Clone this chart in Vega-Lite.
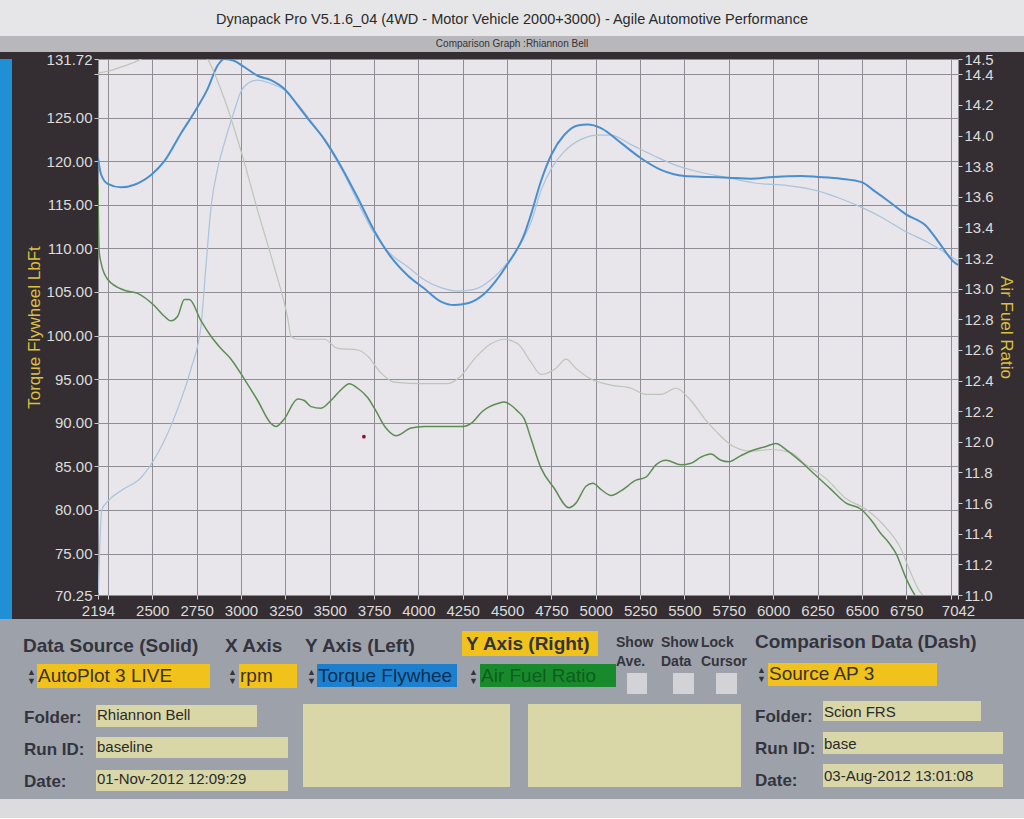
{
"$schema": "https://vega.github.io/schema/vega-lite/v6.json",
"padding": 0,
"background": "#342e32",
"spacing": 0,
"config": {"view": {"stroke": null}, "font": "Liberation Sans"},
"datasets": {
"torque": [
{"rpm":2194,"value":120.4,"run":"AutoPlot 3 LIVE"},{"rpm":2211,"value":118.5,"run":"AutoPlot 3 LIVE"},{"rpm":2249,"value":117.4,"run":"AutoPlot 3 LIVE"},{"rpm":2324,"value":117.0,"run":"AutoPlot 3 LIVE"},{"rpm":2399,"value":117.3,"run":"AutoPlot 3 LIVE"},{"rpm":2498,"value":118.5,"run":"AutoPlot 3 LIVE"},{"rpm":2568,"value":120.0,"run":"AutoPlot 3 LIVE"},{"rpm":2662,"value":123.2,"run":"AutoPlot 3 LIVE"},{"rpm":2752,"value":126.1,"run":"AutoPlot 3 LIVE"},{"rpm":2812,"value":128.3,"run":"AutoPlot 3 LIVE"},{"rpm":2869,"value":131.0,"run":"AutoPlot 3 LIVE"},{"rpm":2906,"value":131.72,"run":"AutoPlot 3 LIVE"},{"rpm":2962,"value":131.5,"run":"AutoPlot 3 LIVE"},{"rpm":3019,"value":130.8,"run":"AutoPlot 3 LIVE"},{"rpm":3094,"value":129.8,"run":"AutoPlot 3 LIVE"},{"rpm":3169,"value":129.3,"run":"AutoPlot 3 LIVE"},{"rpm":3244,"value":128.3,"run":"AutoPlot 3 LIVE"},{"rpm":3320,"value":126.4,"run":"AutoPlot 3 LIVE"},{"rpm":3376,"value":124.9,"run":"AutoPlot 3 LIVE"},{"rpm":3470,"value":122.5,"run":"AutoPlot 3 LIVE"},{"rpm":3564,"value":119.4,"run":"AutoPlot 3 LIVE"},{"rpm":3658,"value":115.8,"run":"AutoPlot 3 LIVE"},{"rpm":3752,"value":112.0,"run":"AutoPlot 3 LIVE"},{"rpm":3846,"value":109.0,"run":"AutoPlot 3 LIVE"},{"rpm":3940,"value":106.9,"run":"AutoPlot 3 LIVE"},{"rpm":4033,"value":105.4,"run":"AutoPlot 3 LIVE"},{"rpm":4127,"value":103.9,"run":"AutoPlot 3 LIVE"},{"rpm":4202,"value":103.5,"run":"AutoPlot 3 LIVE"},{"rpm":4278,"value":103.7,"run":"AutoPlot 3 LIVE"},{"rpm":4372,"value":104.8,"run":"AutoPlot 3 LIVE"},{"rpm":4503,"value":108.2,"run":"AutoPlot 3 LIVE"},{"rpm":4597,"value":111.6,"run":"AutoPlot 3 LIVE"},{"rpm":4635,"value":113.9,"run":"AutoPlot 3 LIVE"},{"rpm":4691,"value":117.7,"run":"AutoPlot 3 LIVE"},{"rpm":4751,"value":120.8,"run":"AutoPlot 3 LIVE"},{"rpm":4822,"value":123.0,"run":"AutoPlot 3 LIVE"},{"rpm":4898,"value":124.1,"run":"AutoPlot 3 LIVE"},{"rpm":4954,"value":124.2,"run":"AutoPlot 3 LIVE"},{"rpm":5029,"value":123.8,"run":"AutoPlot 3 LIVE"},{"rpm":5142,"value":122.1,"run":"AutoPlot 3 LIVE"},{"rpm":5251,"value":120.4,"run":"AutoPlot 3 LIVE"},{"rpm":5368,"value":119.0,"run":"AutoPlot 3 LIVE"},{"rpm":5499,"value":118.3,"run":"AutoPlot 3 LIVE"},{"rpm":5631,"value":118.2,"run":"AutoPlot 3 LIVE"},{"rpm":5749,"value":118.1,"run":"AutoPlot 3 LIVE"},{"rpm":5875,"value":118.0,"run":"AutoPlot 3 LIVE"},{"rpm":6000,"value":118.2,"run":"AutoPlot 3 LIVE"},{"rpm":6157,"value":118.3,"run":"AutoPlot 3 LIVE"},{"rpm":6251,"value":118.2,"run":"AutoPlot 3 LIVE"},{"rpm":6382,"value":118.0,"run":"AutoPlot 3 LIVE"},{"rpm":6499,"value":117.6,"run":"AutoPlot 3 LIVE"},{"rpm":6570,"value":116.6,"run":"AutoPlot 3 LIVE"},{"rpm":6645,"value":115.5,"run":"AutoPlot 3 LIVE"},{"rpm":6749,"value":113.9,"run":"AutoPlot 3 LIVE"},{"rpm":6861,"value":112.6,"run":"AutoPlot 3 LIVE"},{"rpm":6927,"value":110.9,"run":"AutoPlot 3 LIVE"},{"rpm":7021,"value":108.4,"run":"AutoPlot 3 LIVE"},{"rpm":7042,"value":108.1,"run":"AutoPlot 3 LIVE"},
{"rpm":2196,"value":70.5,"run":"Source AP 3"},{"rpm":2215,"value":80.0,"run":"Source AP 3"},{"rpm":2249,"value":81.0,"run":"Source AP 3"},{"rpm":2330,"value":82.3,"run":"Source AP 3"},{"rpm":2436,"value":83.7,"run":"Source AP 3"},{"rpm":2531,"value":86.5,"run":"Source AP 3"},{"rpm":2643,"value":91.6,"run":"Source AP 3"},{"rpm":2718,"value":96.2,"run":"Source AP 3"},{"rpm":2775,"value":101.2,"run":"Source AP 3"},{"rpm":2803,"value":108.1,"run":"Source AP 3"},{"rpm":2831,"value":114.7,"run":"Source AP 3"},{"rpm":2869,"value":119.2,"run":"Source AP 3"},{"rpm":2904,"value":121.9,"run":"Source AP 3"},{"rpm":2961,"value":125.7,"run":"Source AP 3"},{"rpm":3000,"value":128.0,"run":"Source AP 3"},{"rpm":3038,"value":128.9,"run":"Source AP 3"},{"rpm":3094,"value":129.3,"run":"Source AP 3"},{"rpm":3169,"value":128.9,"run":"Source AP 3"},{"rpm":3242,"value":128.2,"run":"Source AP 3"},{"rpm":3376,"value":125.1,"run":"Source AP 3"},{"rpm":3470,"value":122.4,"run":"Source AP 3"},{"rpm":3564,"value":119.2,"run":"Source AP 3"},{"rpm":3752,"value":111.7,"run":"Source AP 3"},{"rpm":3846,"value":109.3,"run":"Source AP 3"},{"rpm":3940,"value":107.9,"run":"Source AP 3"},{"rpm":4033,"value":106.4,"run":"Source AP 3"},{"rpm":4127,"value":105.5,"run":"Source AP 3"},{"rpm":4222,"value":105.1,"run":"Source AP 3"},{"rpm":4315,"value":105.3,"run":"Source AP 3"},{"rpm":4409,"value":106.4,"run":"Source AP 3"},{"rpm":4503,"value":108.4,"run":"Source AP 3"},{"rpm":4597,"value":111.3,"run":"Source AP 3"},{"rpm":4635,"value":113.0,"run":"Source AP 3"},{"rpm":4691,"value":116.6,"run":"Source AP 3"},{"rpm":4751,"value":119.2,"run":"Source AP 3"},{"rpm":4822,"value":121.1,"run":"Source AP 3"},{"rpm":4917,"value":122.5,"run":"Source AP 3"},{"rpm":5011,"value":123.0,"run":"Source AP 3"},{"rpm":5086,"value":123.0,"run":"Source AP 3"},{"rpm":5199,"value":121.9,"run":"Source AP 3"},{"rpm":5330,"value":120.6,"run":"Source AP 3"},{"rpm":5443,"value":119.6,"run":"Source AP 3"},{"rpm":5555,"value":118.9,"run":"Source AP 3"},{"rpm":5749,"value":118.1,"run":"Source AP 3"},{"rpm":5894,"value":117.5,"run":"Source AP 3"},{"rpm":6082,"value":117.2,"run":"Source AP 3"},{"rpm":6251,"value":116.6,"run":"Source AP 3"},{"rpm":6382,"value":115.7,"run":"Source AP 3"},{"rpm":6499,"value":114.7,"run":"Source AP 3"},{"rpm":6608,"value":113.6,"run":"Source AP 3"},{"rpm":6749,"value":111.9,"run":"Source AP 3"},{"rpm":6871,"value":110.7,"run":"Source AP 3"},{"rpm":7021,"value":108.8,"run":"Source AP 3"},{"rpm":7042,"value":108.5,"run":"Source AP 3"}
],
"afr": [
{"rpm":2194,"value":13.68,"run":"AutoPlot 3 LIVE"},{"rpm":2200,"value":13.25,"run":"AutoPlot 3 LIVE"},{"rpm":2211,"value":13.17,"run":"AutoPlot 3 LIVE"},{"rpm":2249,"value":13.06,"run":"AutoPlot 3 LIVE"},{"rpm":2342,"value":12.99,"run":"AutoPlot 3 LIVE"},{"rpm":2418,"value":12.97,"run":"AutoPlot 3 LIVE"},{"rpm":2511,"value":12.89,"run":"AutoPlot 3 LIVE"},{"rpm":2568,"value":12.82,"run":"AutoPlot 3 LIVE"},{"rpm":2605,"value":12.79,"run":"AutoPlot 3 LIVE"},{"rpm":2643,"value":12.82,"run":"AutoPlot 3 LIVE"},{"rpm":2681,"value":12.93,"run":"AutoPlot 3 LIVE"},{"rpm":2709,"value":12.93,"run":"AutoPlot 3 LIVE"},{"rpm":2775,"value":12.79,"run":"AutoPlot 3 LIVE"},{"rpm":2831,"value":12.69,"run":"AutoPlot 3 LIVE"},{"rpm":2887,"value":12.61,"run":"AutoPlot 3 LIVE"},{"rpm":2944,"value":12.54,"run":"AutoPlot 3 LIVE"},{"rpm":3019,"value":12.41,"run":"AutoPlot 3 LIVE"},{"rpm":3094,"value":12.27,"run":"AutoPlot 3 LIVE"},{"rpm":3169,"value":12.12,"run":"AutoPlot 3 LIVE"},{"rpm":3197,"value":12.10,"run":"AutoPlot 3 LIVE"},{"rpm":3244,"value":12.15,"run":"AutoPlot 3 LIVE"},{"rpm":3320,"value":12.28,"run":"AutoPlot 3 LIVE"},{"rpm":3357,"value":12.27,"run":"AutoPlot 3 LIVE"},{"rpm":3395,"value":12.23,"run":"AutoPlot 3 LIVE"},{"rpm":3451,"value":12.22,"run":"AutoPlot 3 LIVE"},{"rpm":3507,"value":12.27,"run":"AutoPlot 3 LIVE"},{"rpm":3564,"value":12.34,"run":"AutoPlot 3 LIVE"},{"rpm":3611,"value":12.38,"run":"AutoPlot 3 LIVE"},{"rpm":3658,"value":12.35,"run":"AutoPlot 3 LIVE"},{"rpm":3714,"value":12.29,"run":"AutoPlot 3 LIVE"},{"rpm":3752,"value":12.22,"run":"AutoPlot 3 LIVE"},{"rpm":3817,"value":12.09,"run":"AutoPlot 3 LIVE"},{"rpm":3874,"value":12.04,"run":"AutoPlot 3 LIVE"},{"rpm":3958,"value":12.09,"run":"AutoPlot 3 LIVE"},{"rpm":4033,"value":12.10,"run":"AutoPlot 3 LIVE"},{"rpm":4253,"value":12.10,"run":"AutoPlot 3 LIVE"},{"rpm":4297,"value":12.12,"run":"AutoPlot 3 LIVE"},{"rpm":4362,"value":12.20,"run":"AutoPlot 3 LIVE"},{"rpm":4447,"value":12.25,"run":"AutoPlot 3 LIVE"},{"rpm":4484,"value":12.26,"run":"AutoPlot 3 LIVE"},{"rpm":4560,"value":12.20,"run":"AutoPlot 3 LIVE"},{"rpm":4597,"value":12.15,"run":"AutoPlot 3 LIVE"},{"rpm":4635,"value":12.02,"run":"AutoPlot 3 LIVE"},{"rpm":4691,"value":11.83,"run":"AutoPlot 3 LIVE"},{"rpm":4764,"value":11.70,"run":"AutoPlot 3 LIVE"},{"rpm":4849,"value":11.57,"run":"AutoPlot 3 LIVE"},{"rpm":4888,"value":11.60,"run":"AutoPlot 3 LIVE"},{"rpm":4945,"value":11.71,"run":"AutoPlot 3 LIVE"},{"rpm":4984,"value":11.73,"run":"AutoPlot 3 LIVE"},{"rpm":5029,"value":11.69,"run":"AutoPlot 3 LIVE"},{"rpm":5086,"value":11.65,"run":"AutoPlot 3 LIVE"},{"rpm":5142,"value":11.68,"run":"AutoPlot 3 LIVE"},{"rpm":5227,"value":11.75,"run":"AutoPlot 3 LIVE"},{"rpm":5283,"value":11.77,"run":"AutoPlot 3 LIVE"},{"rpm":5339,"value":11.85,"run":"AutoPlot 3 LIVE"},{"rpm":5396,"value":11.88,"run":"AutoPlot 3 LIVE"},{"rpm":5480,"value":11.85,"run":"AutoPlot 3 LIVE"},{"rpm":5536,"value":11.86,"run":"AutoPlot 3 LIVE"},{"rpm":5593,"value":11.90,"run":"AutoPlot 3 LIVE"},{"rpm":5649,"value":11.92,"run":"AutoPlot 3 LIVE"},{"rpm":5705,"value":11.88,"run":"AutoPlot 3 LIVE"},{"rpm":5751,"value":11.87,"run":"AutoPlot 3 LIVE"},{"rpm":5818,"value":11.91,"run":"AutoPlot 3 LIVE"},{"rpm":5875,"value":11.94,"run":"AutoPlot 3 LIVE"},{"rpm":5959,"value":11.97,"run":"AutoPlot 3 LIVE"},{"rpm":6016,"value":11.99,"run":"AutoPlot 3 LIVE"},{"rpm":6072,"value":11.95,"run":"AutoPlot 3 LIVE"},{"rpm":6157,"value":11.87,"run":"AutoPlot 3 LIVE"},{"rpm":6241,"value":11.78,"run":"AutoPlot 3 LIVE"},{"rpm":6326,"value":11.69,"run":"AutoPlot 3 LIVE"},{"rpm":6411,"value":11.60,"run":"AutoPlot 3 LIVE"},{"rpm":6495,"value":11.56,"run":"AutoPlot 3 LIVE"},{"rpm":6552,"value":11.49,"run":"AutoPlot 3 LIVE"},{"rpm":6608,"value":11.40,"run":"AutoPlot 3 LIVE"},{"rpm":6653,"value":11.34,"run":"AutoPlot 3 LIVE"},{"rpm":6693,"value":11.27,"run":"AutoPlot 3 LIVE"},{"rpm":6749,"value":11.11,"run":"AutoPlot 3 LIVE"},{"rpm":6788,"value":11.02,"run":"AutoPlot 3 LIVE"},{"rpm":6810,"value":10.98,"run":"AutoPlot 3 LIVE"},
{"rpm":2194,"value":14.41,"run":"Source AP 3"},{"rpm":2250,"value":14.42,"run":"Source AP 3"},{"rpm":2330,"value":14.45,"run":"Source AP 3"},{"rpm":2436,"value":14.5,"run":"Source AP 3"},{"rpm":2550,"value":14.62,"run":"Source AP 3"},{"rpm":2650,"value":14.66,"run":"Source AP 3"},{"rpm":2750,"value":14.6,"run":"Source AP 3"},{"rpm":2812,"value":14.5,"run":"Source AP 3"},{"rpm":2906,"value":14.24,"run":"Source AP 3"},{"rpm":3000,"value":13.90,"run":"Source AP 3"},{"rpm":3094,"value":13.51,"run":"Source AP 3"},{"rpm":3188,"value":13.14,"run":"Source AP 3"},{"rpm":3263,"value":12.81,"run":"Source AP 3"},{"rpm":3282,"value":12.69,"run":"Source AP 3"},{"rpm":3320,"value":12.67,"run":"Source AP 3"},{"rpm":3470,"value":12.67,"run":"Source AP 3"},{"rpm":3545,"value":12.61,"run":"Source AP 3"},{"rpm":3658,"value":12.60,"run":"Source AP 3"},{"rpm":3714,"value":12.56,"run":"Source AP 3"},{"rpm":3789,"value":12.45,"run":"Source AP 3"},{"rpm":3864,"value":12.39,"run":"Source AP 3"},{"rpm":4033,"value":12.38,"run":"Source AP 3"},{"rpm":4165,"value":12.38,"run":"Source AP 3"},{"rpm":4240,"value":12.43,"run":"Source AP 3"},{"rpm":4315,"value":12.54,"run":"Source AP 3"},{"rpm":4409,"value":12.64,"run":"Source AP 3"},{"rpm":4484,"value":12.67,"run":"Source AP 3"},{"rpm":4560,"value":12.64,"run":"Source AP 3"},{"rpm":4635,"value":12.52,"run":"Source AP 3"},{"rpm":4691,"value":12.44,"run":"Source AP 3"},{"rpm":4776,"value":12.48,"run":"Source AP 3"},{"rpm":4832,"value":12.54,"run":"Source AP 3"},{"rpm":4888,"value":12.48,"run":"Source AP 3"},{"rpm":4973,"value":12.41,"run":"Source AP 3"},{"rpm":5086,"value":12.37,"run":"Source AP 3"},{"rpm":5199,"value":12.35,"run":"Source AP 3"},{"rpm":5283,"value":12.31,"run":"Source AP 3"},{"rpm":5368,"value":12.31,"run":"Source AP 3"},{"rpm":5452,"value":12.35,"run":"Source AP 3"},{"rpm":5536,"value":12.27,"run":"Source AP 3"},{"rpm":5621,"value":12.14,"run":"Source AP 3"},{"rpm":5677,"value":12.07,"run":"Source AP 3"},{"rpm":5762,"value":11.98,"run":"Source AP 3"},{"rpm":5875,"value":11.94,"run":"Source AP 3"},{"rpm":5988,"value":11.95,"run":"Source AP 3"},{"rpm":6100,"value":11.93,"run":"Source AP 3"},{"rpm":6185,"value":11.85,"run":"Source AP 3"},{"rpm":6298,"value":11.76,"run":"Source AP 3"},{"rpm":6411,"value":11.63,"run":"Source AP 3"},{"rpm":6523,"value":11.56,"run":"Source AP 3"},{"rpm":6636,"value":11.44,"run":"Source AP 3"},{"rpm":6721,"value":11.30,"run":"Source AP 3"},{"rpm":6777,"value":11.14,"run":"Source AP 3"},{"rpm":6822,"value":11.03,"run":"Source AP 3"},{"rpm":6861,"value":10.98,"run":"Source AP 3"}
],
"cursor": [{"rpm":3693,"value":88.4}]
},
"vconcat": [
{"width":1024,"height":36,"view":{"fill":"#e6e6e8","stroke":null},"data":{"values":[{}]},
 "mark":{"type":"text","font":"Liberation Sans","fontSize":14.5,"color":"#2b2b2b","baseline":"middle","dy":2},
 "encoding":{"text":{"value":"Dynapack Pro V5.1.6_04 (4WD - Motor Vehicle 2000+3000) - Agile Automotive Performance"}}},
{"width":1024,"height":16,"view":{"fill":"#b8b8bc","stroke":null},"data":{"values":[{}]},
 "mark":{"type":"text","font":"Liberation Sans","fontSize":10,"color":"#333333","baseline":"middle"},
 "encoding":{"text":{"value":"Comparison Graph :Rhiannon Bell"}}},
{"hconcat":[
 {"width":12,"height":560,"view":{"fill":"#1f8fd6","stroke":null},"data":{"values":[{}]},"mark":{"type":"text"},"encoding":{"text":{"value":""}}},
 {"width":860,"height":536,"view":{"fill":"#e8e5eb","stroke":null},
  "encoding":{"x":{"field":"rpm","type":"quantitative","scale":{"domain":[2194,7042],"nice":false,"zero":false},
   "axis":{"title":null,"values":[2194,2250,2500,2750,3000,3250,3500,3750,4000,4250,4500,4750,5000,5250,5500,5750,6000,6250,6500,6750,7000,7042],"format":"d","labelExpr":"datum.value == 2250 || datum.value == 7000 ? '' : datum.label","labelFlush":false,"labelOverlap":false,"grid":true,"gridColor":"#8f8e95","tickColor":"#cfcfcf","tickSize":4,"domain":false,"labelColor":"#dcdcdc","labelFont":"Liberation Sans","labelFontSize":15,"labelPadding":4}}},
  "layer":[
   {"data":{"name":"torque"},
    "encoding":{"y":{"field":"value","type":"quantitative","scale":{"domain":[70.25,131.72],"nice":false,"zero":false},
     "axis":{"orient":"left","title":"Torque Flywheel LbFt","values":[70.25,75,80,85,90,95,100,105,110,115,120,125,130,131.72],"format":".2f","labelExpr":"datum.value == 130 ? '' : datum.label","grid":true,"gridColor":"#8f8e95","tickColor":"#cfcfcf","tickSize":4,"domain":false,"labelColor":"#dcdcdc","labelFont":"Liberation Sans","labelFontSize":15,"labelPadding":2,"labelOverlap":false,"labelFlush":false,"titleColor":"#dcc040","titleFont":"Liberation Sans","titleFontSize":17,"titleFontWeight":"normal","titlePadding":3}}},
    "layer":[
     {"transform":[{"filter":"datum.run == 'Source AP 3'"}],"mark":{"type":"line","color":"#a9c4dc","strokeWidth":1.2,"interpolate":"monotone","clip":true},"encoding":{}},
     {"transform":[{"filter":"datum.run == 'AutoPlot 3 LIVE'"}],"mark":{"type":"line","color":"#4a8fcd","strokeWidth":2,"interpolate":"monotone","clip":true},"encoding":{}}
    ]},
   {"data":{"name":"afr"},
    "encoding":{"y":{"field":"value","type":"quantitative","scale":{"domain":[11,14.5],"nice":false,"zero":false},
     "axis":{"orient":"right","title":"Air Fuel Ratio","values":[11,11.2,11.4,11.6,11.8,12,12.2,12.4,12.6,12.8,13,13.2,13.4,13.6,13.8,14,14.2,14.4,14.5],"format":".1f","grid":false,"tickColor":"#cfcfcf","tickSize":4,"domain":false,"labelColor":"#dcdcdc","labelFont":"Liberation Sans","labelFontSize":15,"labelPadding":2,"labelOverlap":false,"labelFlush":false,"titleColor":"#dcc040","titleFont":"Liberation Sans","titleFontSize":17,"titleFontWeight":"normal","titlePadding":3}}},
    "layer":[
     {"transform":[{"filter":"datum.run == 'Source AP 3'"}],"mark":{"type":"line","color":"#bcc6b8","strokeWidth":1.2,"interpolate":"monotone","clip":true},"encoding":{}},
     {"transform":[{"filter":"datum.run == 'AutoPlot 3 LIVE'"}],"mark":{"type":"line","color":"#5c8e53","strokeWidth":1.5,"interpolate":"monotone","clip":true},"encoding":{}}
    ]},
   {"data":{"name":"cursor"},"mark":{"type":"point","filled":true,"color":"#8a1528","size":14,"opacity":1},
    "encoding":{"y":{"field":"value","type":"quantitative","scale":{"domain":[70.25,131.72],"nice":false,"zero":false},"axis":null}}}
  ],
  "resolve":{"scale":{"y":"independent"}}}
 ],
 "spacing":13},
{"width":1024,"height":180,"view":{"fill":"#9da1aa","stroke":null},"data":{"values":[{}]},
 "layer":[
  {"mark":{"type":"rect","color":"#f2c21c"},"encoding":{"x":{"datum":462,"scale":{"domain":[0,1024],"nice":false,"zero":false},"axis":null},"x2":{"datum":598},"y":{"datum":12,"scale":{"domain":[0,180],"nice":false,"zero":false,"reverse":true},"axis":null},"y2":{"datum":37}}},
  {"mark":{"type":"rect","color":"#f2c21c"},"encoding":{"x":{"datum":37,"scale":{"domain":[0,1024],"nice":false,"zero":false},"axis":null},"x2":{"datum":210},"y":{"datum":45,"scale":{"domain":[0,180],"nice":false,"zero":false,"reverse":true},"axis":null},"y2":{"datum":69}}},
  {"mark":{"type":"rect","color":"#f2c21c"},"encoding":{"x":{"datum":239,"scale":{"domain":[0,1024],"nice":false,"zero":false},"axis":null},"x2":{"datum":297},"y":{"datum":45,"scale":{"domain":[0,180],"nice":false,"zero":false,"reverse":true},"axis":null},"y2":{"datum":69}}},
  {"mark":{"type":"rect","color":"#1e80cc"},"encoding":{"x":{"datum":317,"scale":{"domain":[0,1024],"nice":false,"zero":false},"axis":null},"x2":{"datum":457},"y":{"datum":45,"scale":{"domain":[0,180],"nice":false,"zero":false,"reverse":true},"axis":null},"y2":{"datum":68}}},
  {"mark":{"type":"rect","color":"#188a2c"},"encoding":{"x":{"datum":480,"scale":{"domain":[0,1024],"nice":false,"zero":false},"axis":null},"x2":{"datum":616},"y":{"datum":45,"scale":{"domain":[0,180],"nice":false,"zero":false,"reverse":true},"axis":null},"y2":{"datum":68}}},
  {"mark":{"type":"rect","color":"#d3d3d7"},"encoding":{"x":{"datum":627,"scale":{"domain":[0,1024],"nice":false,"zero":false},"axis":null},"x2":{"datum":647},"y":{"datum":54,"scale":{"domain":[0,180],"nice":false,"zero":false,"reverse":true},"axis":null},"y2":{"datum":75}}},
  {"mark":{"type":"rect","color":"#d3d3d7"},"encoding":{"x":{"datum":673,"scale":{"domain":[0,1024],"nice":false,"zero":false},"axis":null},"x2":{"datum":694},"y":{"datum":54,"scale":{"domain":[0,180],"nice":false,"zero":false,"reverse":true},"axis":null},"y2":{"datum":75}}},
  {"mark":{"type":"rect","color":"#d3d3d7"},"encoding":{"x":{"datum":716,"scale":{"domain":[0,1024],"nice":false,"zero":false},"axis":null},"x2":{"datum":737},"y":{"datum":54,"scale":{"domain":[0,180],"nice":false,"zero":false,"reverse":true},"axis":null},"y2":{"datum":75}}},
  {"mark":{"type":"rect","color":"#f2c21c"},"encoding":{"x":{"datum":768,"scale":{"domain":[0,1024],"nice":false,"zero":false},"axis":null},"x2":{"datum":937},"y":{"datum":44,"scale":{"domain":[0,180],"nice":false,"zero":false,"reverse":true},"axis":null},"y2":{"datum":67}}},
  {"mark":{"type":"rect","color":"#d9d7a8"},"encoding":{"x":{"datum":96,"scale":{"domain":[0,1024],"nice":false,"zero":false},"axis":null},"x2":{"datum":257},"y":{"datum":86,"scale":{"domain":[0,180],"nice":false,"zero":false,"reverse":true},"axis":null},"y2":{"datum":108}}},
  {"mark":{"type":"rect","color":"#d9d7a8"},"encoding":{"x":{"datum":96,"scale":{"domain":[0,1024],"nice":false,"zero":false},"axis":null},"x2":{"datum":288},"y":{"datum":118,"scale":{"domain":[0,180],"nice":false,"zero":false,"reverse":true},"axis":null},"y2":{"datum":139}}},
  {"mark":{"type":"rect","color":"#d9d7a8"},"encoding":{"x":{"datum":96,"scale":{"domain":[0,1024],"nice":false,"zero":false},"axis":null},"x2":{"datum":288},"y":{"datum":151,"scale":{"domain":[0,180],"nice":false,"zero":false,"reverse":true},"axis":null},"y2":{"datum":172}}},
  {"mark":{"type":"rect","color":"#d9d7a8"},"encoding":{"x":{"datum":303,"scale":{"domain":[0,1024],"nice":false,"zero":false},"axis":null},"x2":{"datum":510},"y":{"datum":85,"scale":{"domain":[0,180],"nice":false,"zero":false,"reverse":true},"axis":null},"y2":{"datum":168}}},
  {"mark":{"type":"rect","color":"#d9d7a8"},"encoding":{"x":{"datum":528,"scale":{"domain":[0,1024],"nice":false,"zero":false},"axis":null},"x2":{"datum":741},"y":{"datum":85,"scale":{"domain":[0,180],"nice":false,"zero":false,"reverse":true},"axis":null},"y2":{"datum":168}}},
  {"mark":{"type":"rect","color":"#d9d7a8"},"encoding":{"x":{"datum":823,"scale":{"domain":[0,1024],"nice":false,"zero":false},"axis":null},"x2":{"datum":981},"y":{"datum":82,"scale":{"domain":[0,180],"nice":false,"zero":false,"reverse":true},"axis":null},"y2":{"datum":102}}},
  {"mark":{"type":"rect","color":"#d9d7a8"},"encoding":{"x":{"datum":823,"scale":{"domain":[0,1024],"nice":false,"zero":false},"axis":null},"x2":{"datum":1003},"y":{"datum":113,"scale":{"domain":[0,180],"nice":false,"zero":false,"reverse":true},"axis":null},"y2":{"datum":135}}},
  {"mark":{"type":"rect","color":"#d9d7a8"},"encoding":{"x":{"datum":823,"scale":{"domain":[0,1024],"nice":false,"zero":false},"axis":null},"x2":{"datum":1003},"y":{"datum":145,"scale":{"domain":[0,180],"nice":false,"zero":false,"reverse":true},"axis":null},"y2":{"datum":168}}},
  {"mark":{"type":"text","align":"left","baseline":"middle","fontSize":19,"fontWeight":"bold","color":"#34343c"},"encoding":{"text":{"value":"Data Source (Solid)"},"x":{"datum":23,"scale":{"domain":[0,1024],"nice":false,"zero":false},"axis":null},"y":{"datum":27,"scale":{"domain":[0,180],"nice":false,"zero":false,"reverse":true},"axis":null}}},
  {"mark":{"type":"text","align":"left","baseline":"middle","fontSize":19,"fontWeight":"bold","color":"#34343c"},"encoding":{"text":{"value":"X Axis"},"x":{"datum":225,"scale":{"domain":[0,1024],"nice":false,"zero":false},"axis":null},"y":{"datum":27,"scale":{"domain":[0,180],"nice":false,"zero":false,"reverse":true},"axis":null}}},
  {"mark":{"type":"text","align":"left","baseline":"middle","fontSize":19,"fontWeight":"bold","color":"#34343c"},"encoding":{"text":{"value":"Y Axis (Left)"},"x":{"datum":305,"scale":{"domain":[0,1024],"nice":false,"zero":false},"axis":null},"y":{"datum":27,"scale":{"domain":[0,180],"nice":false,"zero":false,"reverse":true},"axis":null}}},
  {"mark":{"type":"text","align":"left","baseline":"middle","fontSize":19,"fontWeight":"bold","color":"#34343c"},"encoding":{"text":{"value":"Y Axis (Right)"},"x":{"datum":466,"scale":{"domain":[0,1024],"nice":false,"zero":false},"axis":null},"y":{"datum":25,"scale":{"domain":[0,180],"nice":false,"zero":false,"reverse":true},"axis":null}}},
  {"mark":{"type":"text","align":"left","baseline":"middle","fontSize":19,"fontWeight":"bold","color":"#34343c"},"encoding":{"text":{"value":"Comparison Data (Dash)"},"x":{"datum":755,"scale":{"domain":[0,1024],"nice":false,"zero":false},"axis":null},"y":{"datum":23,"scale":{"domain":[0,180],"nice":false,"zero":false,"reverse":true},"axis":null}}},
  {"mark":{"type":"text","align":"left","baseline":"middle","fontSize":14,"fontWeight":"bold","color":"#34343c","lineBreak":"\n","lineHeight":19},"encoding":{"text":{"value":"Show\nAve."},"x":{"datum":616,"scale":{"domain":[0,1024],"nice":false,"zero":false},"axis":null},"y":{"datum":23.5,"scale":{"domain":[0,180],"nice":false,"zero":false,"reverse":true},"axis":null}}},
  {"mark":{"type":"text","align":"left","baseline":"middle","fontSize":14,"fontWeight":"bold","color":"#34343c","lineBreak":"\n","lineHeight":19},"encoding":{"text":{"value":"Show\nData"},"x":{"datum":661,"scale":{"domain":[0,1024],"nice":false,"zero":false},"axis":null},"y":{"datum":23.5,"scale":{"domain":[0,180],"nice":false,"zero":false,"reverse":true},"axis":null}}},
  {"mark":{"type":"text","align":"left","baseline":"middle","fontSize":14,"fontWeight":"bold","color":"#34343c","lineBreak":"\n","lineHeight":19},"encoding":{"text":{"value":"Lock\nCursor"},"x":{"datum":701,"scale":{"domain":[0,1024],"nice":false,"zero":false},"axis":null},"y":{"datum":23.5,"scale":{"domain":[0,180],"nice":false,"zero":false,"reverse":true},"axis":null}}},
  {"mark":{"type":"text","align":"left","baseline":"middle","fontSize":19,"color":"#3b3220"},"encoding":{"text":{"value":"AutoPlot 3 LIVE"},"x":{"datum":38,"scale":{"domain":[0,1024],"nice":false,"zero":false},"axis":null},"y":{"datum":57,"scale":{"domain":[0,180],"nice":false,"zero":false,"reverse":true},"axis":null}}},
  {"mark":{"type":"text","align":"left","baseline":"middle","fontSize":19,"color":"#3b3220"},"encoding":{"text":{"value":"rpm"},"x":{"datum":240,"scale":{"domain":[0,1024],"nice":false,"zero":false},"axis":null},"y":{"datum":57,"scale":{"domain":[0,180],"nice":false,"zero":false,"reverse":true},"axis":null}}},
  {"mark":{"type":"text","align":"left","baseline":"middle","fontSize":19,"color":"#0c2f56"},"encoding":{"text":{"value":"Torque Flywhee"},"x":{"datum":318,"scale":{"domain":[0,1024],"nice":false,"zero":false},"axis":null},"y":{"datum":57,"scale":{"domain":[0,180],"nice":false,"zero":false,"reverse":true},"axis":null}}},
  {"mark":{"type":"text","align":"left","baseline":"middle","fontSize":19,"color":"#0f5c1f"},"encoding":{"text":{"value":"Air Fuel Ratio"},"x":{"datum":481,"scale":{"domain":[0,1024],"nice":false,"zero":false},"axis":null},"y":{"datum":57,"scale":{"domain":[0,180],"nice":false,"zero":false,"reverse":true},"axis":null}}},
  {"mark":{"type":"text","align":"left","baseline":"middle","fontSize":19,"color":"#3b3220"},"encoding":{"text":{"value":"Source AP 3"},"x":{"datum":769,"scale":{"domain":[0,1024],"nice":false,"zero":false},"axis":null},"y":{"datum":55,"scale":{"domain":[0,180],"nice":false,"zero":false,"reverse":true},"axis":null}}},
  {"mark":{"type":"text","align":"left","baseline":"middle","fontSize":9,"color":"#33333a","lineBreak":"\n","lineHeight":9},"encoding":{"text":{"value":"▲\n▼"},"x":{"datum":27,"scale":{"domain":[0,1024],"nice":false,"zero":false},"axis":null},"y":{"datum":53,"scale":{"domain":[0,180],"nice":false,"zero":false,"reverse":true},"axis":null}}},
  {"mark":{"type":"text","align":"left","baseline":"middle","fontSize":9,"color":"#33333a","lineBreak":"\n","lineHeight":9},"encoding":{"text":{"value":"▲\n▼"},"x":{"datum":228,"scale":{"domain":[0,1024],"nice":false,"zero":false},"axis":null},"y":{"datum":53,"scale":{"domain":[0,180],"nice":false,"zero":false,"reverse":true},"axis":null}}},
  {"mark":{"type":"text","align":"left","baseline":"middle","fontSize":9,"color":"#33333a","lineBreak":"\n","lineHeight":9},"encoding":{"text":{"value":"▲\n▼"},"x":{"datum":307,"scale":{"domain":[0,1024],"nice":false,"zero":false},"axis":null},"y":{"datum":53,"scale":{"domain":[0,180],"nice":false,"zero":false,"reverse":true},"axis":null}}},
  {"mark":{"type":"text","align":"left","baseline":"middle","fontSize":9,"color":"#33333a","lineBreak":"\n","lineHeight":9},"encoding":{"text":{"value":"▲\n▼"},"x":{"datum":469,"scale":{"domain":[0,1024],"nice":false,"zero":false},"axis":null},"y":{"datum":53,"scale":{"domain":[0,180],"nice":false,"zero":false,"reverse":true},"axis":null}}},
  {"mark":{"type":"text","align":"left","baseline":"middle","fontSize":9,"color":"#33333a","lineBreak":"\n","lineHeight":9},"encoding":{"text":{"value":"▲\n▼"},"x":{"datum":757,"scale":{"domain":[0,1024],"nice":false,"zero":false},"axis":null},"y":{"datum":51,"scale":{"domain":[0,180],"nice":false,"zero":false,"reverse":true},"axis":null}}},
  {"mark":{"type":"text","align":"left","baseline":"middle","fontSize":17,"fontWeight":"bold","color":"#34343c","lineBreak":"\n","lineHeight":32},"encoding":{"text":{"value":"Folder:\nRun ID:\nDate:"},"x":{"datum":24,"scale":{"domain":[0,1024],"nice":false,"zero":false},"axis":null},"y":{"datum":99,"scale":{"domain":[0,180],"nice":false,"zero":false,"reverse":true},"axis":null}}},
  {"mark":{"type":"text","align":"left","baseline":"middle","fontSize":17,"fontWeight":"bold","color":"#34343c","lineBreak":"\n","lineHeight":32},"encoding":{"text":{"value":"Folder:\nRun ID:\nDate:"},"x":{"datum":755,"scale":{"domain":[0,1024],"nice":false,"zero":false},"axis":null},"y":{"datum":98,"scale":{"domain":[0,180],"nice":false,"zero":false,"reverse":true},"axis":null}}},
  {"mark":{"type":"text","align":"left","baseline":"middle","fontSize":15,"color":"#2a2a2a","lineBreak":"\n","lineHeight":32},"encoding":{"text":{"value":"Rhiannon Bell\nbaseline\n01-Nov-2012  12:09:29"},"x":{"datum":97,"scale":{"domain":[0,1024],"nice":false,"zero":false},"axis":null},"y":{"datum":96,"scale":{"domain":[0,180],"nice":false,"zero":false,"reverse":true},"axis":null}}},
  {"mark":{"type":"text","align":"left","baseline":"middle","fontSize":15,"color":"#2a2a2a","lineBreak":"\n","lineHeight":32},"encoding":{"text":{"value":"Scion FRS\nbase\n03-Aug-2012  13:01:08"},"x":{"datum":824,"scale":{"domain":[0,1024],"nice":false,"zero":false},"axis":null},"y":{"datum":93,"scale":{"domain":[0,180],"nice":false,"zero":false,"reverse":true},"axis":null}}}
 ]},
{"width":1024,"height":19,"view":{"fill":"#dcdcdf","stroke":null},"data":{"values":[{}]},"mark":{"type":"text"},"encoding":{"text":{"value":""}}}
]
}
